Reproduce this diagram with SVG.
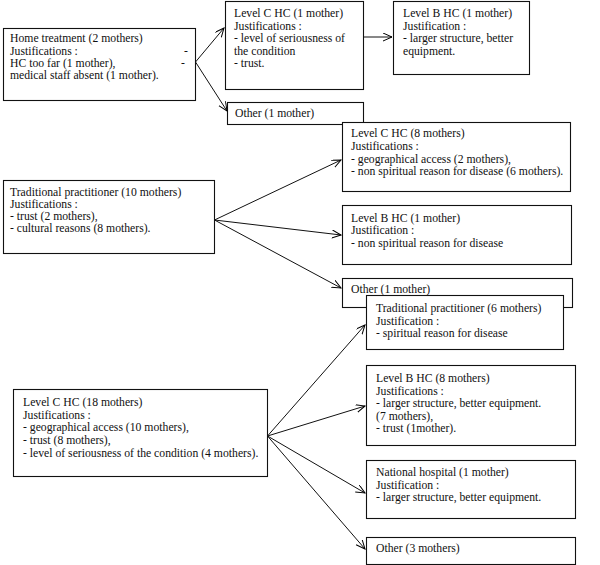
<svg xmlns="http://www.w3.org/2000/svg" width="600" height="565" viewBox="0 0 600 565" font-family="'Liberation Serif', 'Times New Roman', serif">
<defs>
<marker id="arr" markerUnits="userSpaceOnUse" markerWidth="10" markerHeight="10" refX="9" refY="4" orient="auto">
<path d="M0,0 L9,4 L0,8" fill="none" stroke="#000" stroke-width="1"/>
</marker>
<style>
rect{fill:#fff;stroke:#111;stroke-width:1.1}
text{font-family:'Liberation Serif','Times New Roman',serif;font-size:11.7px;fill:#111}
.c line{stroke:#111;stroke-width:1;marker-end:url(#arr)}
</style>
</defs>
<rect x="0" y="0" width="600" height="565" style="stroke:none"/>
<g id="n-home">
<rect x="3.5" y="28.5" width="192" height="72"/>
<text x="10" y="42">Home treatment (2 mothers)</text>
<text x="10" y="54.5">Justifications :</text>
<text x="184" y="54.5">-</text>
<text x="10" y="66.5">HC too far (1 mother),</text>
<text x="181" y="66.5">-</text>
<text x="10" y="78.5">medical staff absent (1 mother).</text>
</g>
<g id="n-c1">
<rect x="225.5" y="1.5" width="138" height="88"/>
<text x="234" y="17">Level C HC (1 mother)</text>
<text x="234" y="29.5">Justifications :</text>
<text x="234" y="42">- level of seriousness of</text>
<text x="234" y="54.5">the condition</text>
<text x="234" y="67"> - trust.</text>
</g>
<g id="n-b1">
<rect x="393.5" y="1.5" width="136" height="73"/>
<text x="403" y="17">Level B HC (1 mother)</text>
<text x="403" y="29.5">Justification :</text>
<text x="403" y="42">- larger structure, better</text>
<text x="403" y="54.5">equipment.</text>
</g>
<g id="n-other1">
<rect x="227.5" y="102.5" width="136" height="22"/>
<text x="235" y="117">Other (1 mother)</text>
</g>
<g id="n-trad10">
<rect x="3.5" y="180.5" width="211" height="73"/>
<text x="10" y="195.5">Traditional practitioner (10 mothers)</text>
<text x="10" y="207.5">Justifications :</text>
<text x="10" y="219.5">- trust (2 mothers),</text>
<text x="10" y="231.5">- cultural reasons (8 mothers).</text>
</g>
<g id="n-c8">
<rect x="342.5" y="122.5" width="228" height="69"/>
<text x="351" y="137">Level C HC (8 mothers)</text>
<text x="351" y="149.5">Justifications :</text>
<text x="351" y="162.5"> - geographical access (2 mothers),</text>
<text x="351" y="175">- non spiritual reason for disease (6 mothers).</text>
</g>
<g id="n-b1b">
<rect x="342.5" y="205.5" width="229" height="59"/>
<text x="351" y="222">Level B HC (1 mother)</text>
<text x="351" y="234">Justification :</text>
<text x="351" y="247">- non spiritual reason for disease</text>
</g>
<g id="n-other1b">
<rect x="342.5" y="278.5" width="230" height="29"/>
<text x="351" y="293">Other (1 mother)</text>
</g>
<g id="n-trad6">
<rect x="366.5" y="295.5" width="197" height="54"/>
<text x="376" y="312">Traditional practitioner (6 mothers)</text>
<text x="376" y="324.5">Justification :</text>
<text x="376" y="337"> - spiritual reason for disease</text>
</g>
<g id="n-b8">
<rect x="366.5" y="365.5" width="209" height="80"/>
<text x="376" y="382">Level B HC (8 mothers)</text>
<text x="376" y="394.5"> Justifications :</text>
<text x="376" y="407">- larger structure, better equipment.</text>
<text x="376" y="419.5">(7 mothers),</text>
<text x="376" y="432"> - trust (1mother).</text>
</g>
<g id="n-nat">
<rect x="366.5" y="460.5" width="209" height="58"/>
<text x="376" y="476">National hospital (1 mother)</text>
<text x="376" y="488.5">Justification :</text>
<text x="376" y="501">- larger structure, better equipment.</text>
</g>
<g id="n-other3">
<rect x="366.5" y="537.5" width="209" height="27"/>
<text x="376" y="552">Other (3 mothers)</text>
</g>
<g id="n-c18">
<rect x="13.5" y="389.5" width="254" height="87"/>
<text x="23" y="406">Level C HC (18 mothers)</text>
<text x="23" y="418.5">Justifications :</text>
<text x="23" y="431"> - geographical access (10 mothers),</text>
<text x="23" y="444">- trust (8 mothers),</text>
<text x="23" y="457">- level of seriousness of the condition (4 mothers).</text>
</g>
<g id="connectors" class="c">
<line x1="195.5" y1="62" x2="224" y2="28"/>
<line x1="195.5" y1="62" x2="227" y2="111"/>
<line x1="363.5" y1="37" x2="392" y2="37"/>
<line x1="214.5" y1="220" x2="341" y2="160"/>
<line x1="214.5" y1="220" x2="341" y2="235"/>
<line x1="214.5" y1="220" x2="341" y2="288"/>
<line x1="267.5" y1="436" x2="365" y2="325"/>
<line x1="267.5" y1="436" x2="365" y2="406"/>
<line x1="267.5" y1="436" x2="365" y2="493"/>
<line x1="267.5" y1="436" x2="365" y2="549"/>
</g>
</svg>
